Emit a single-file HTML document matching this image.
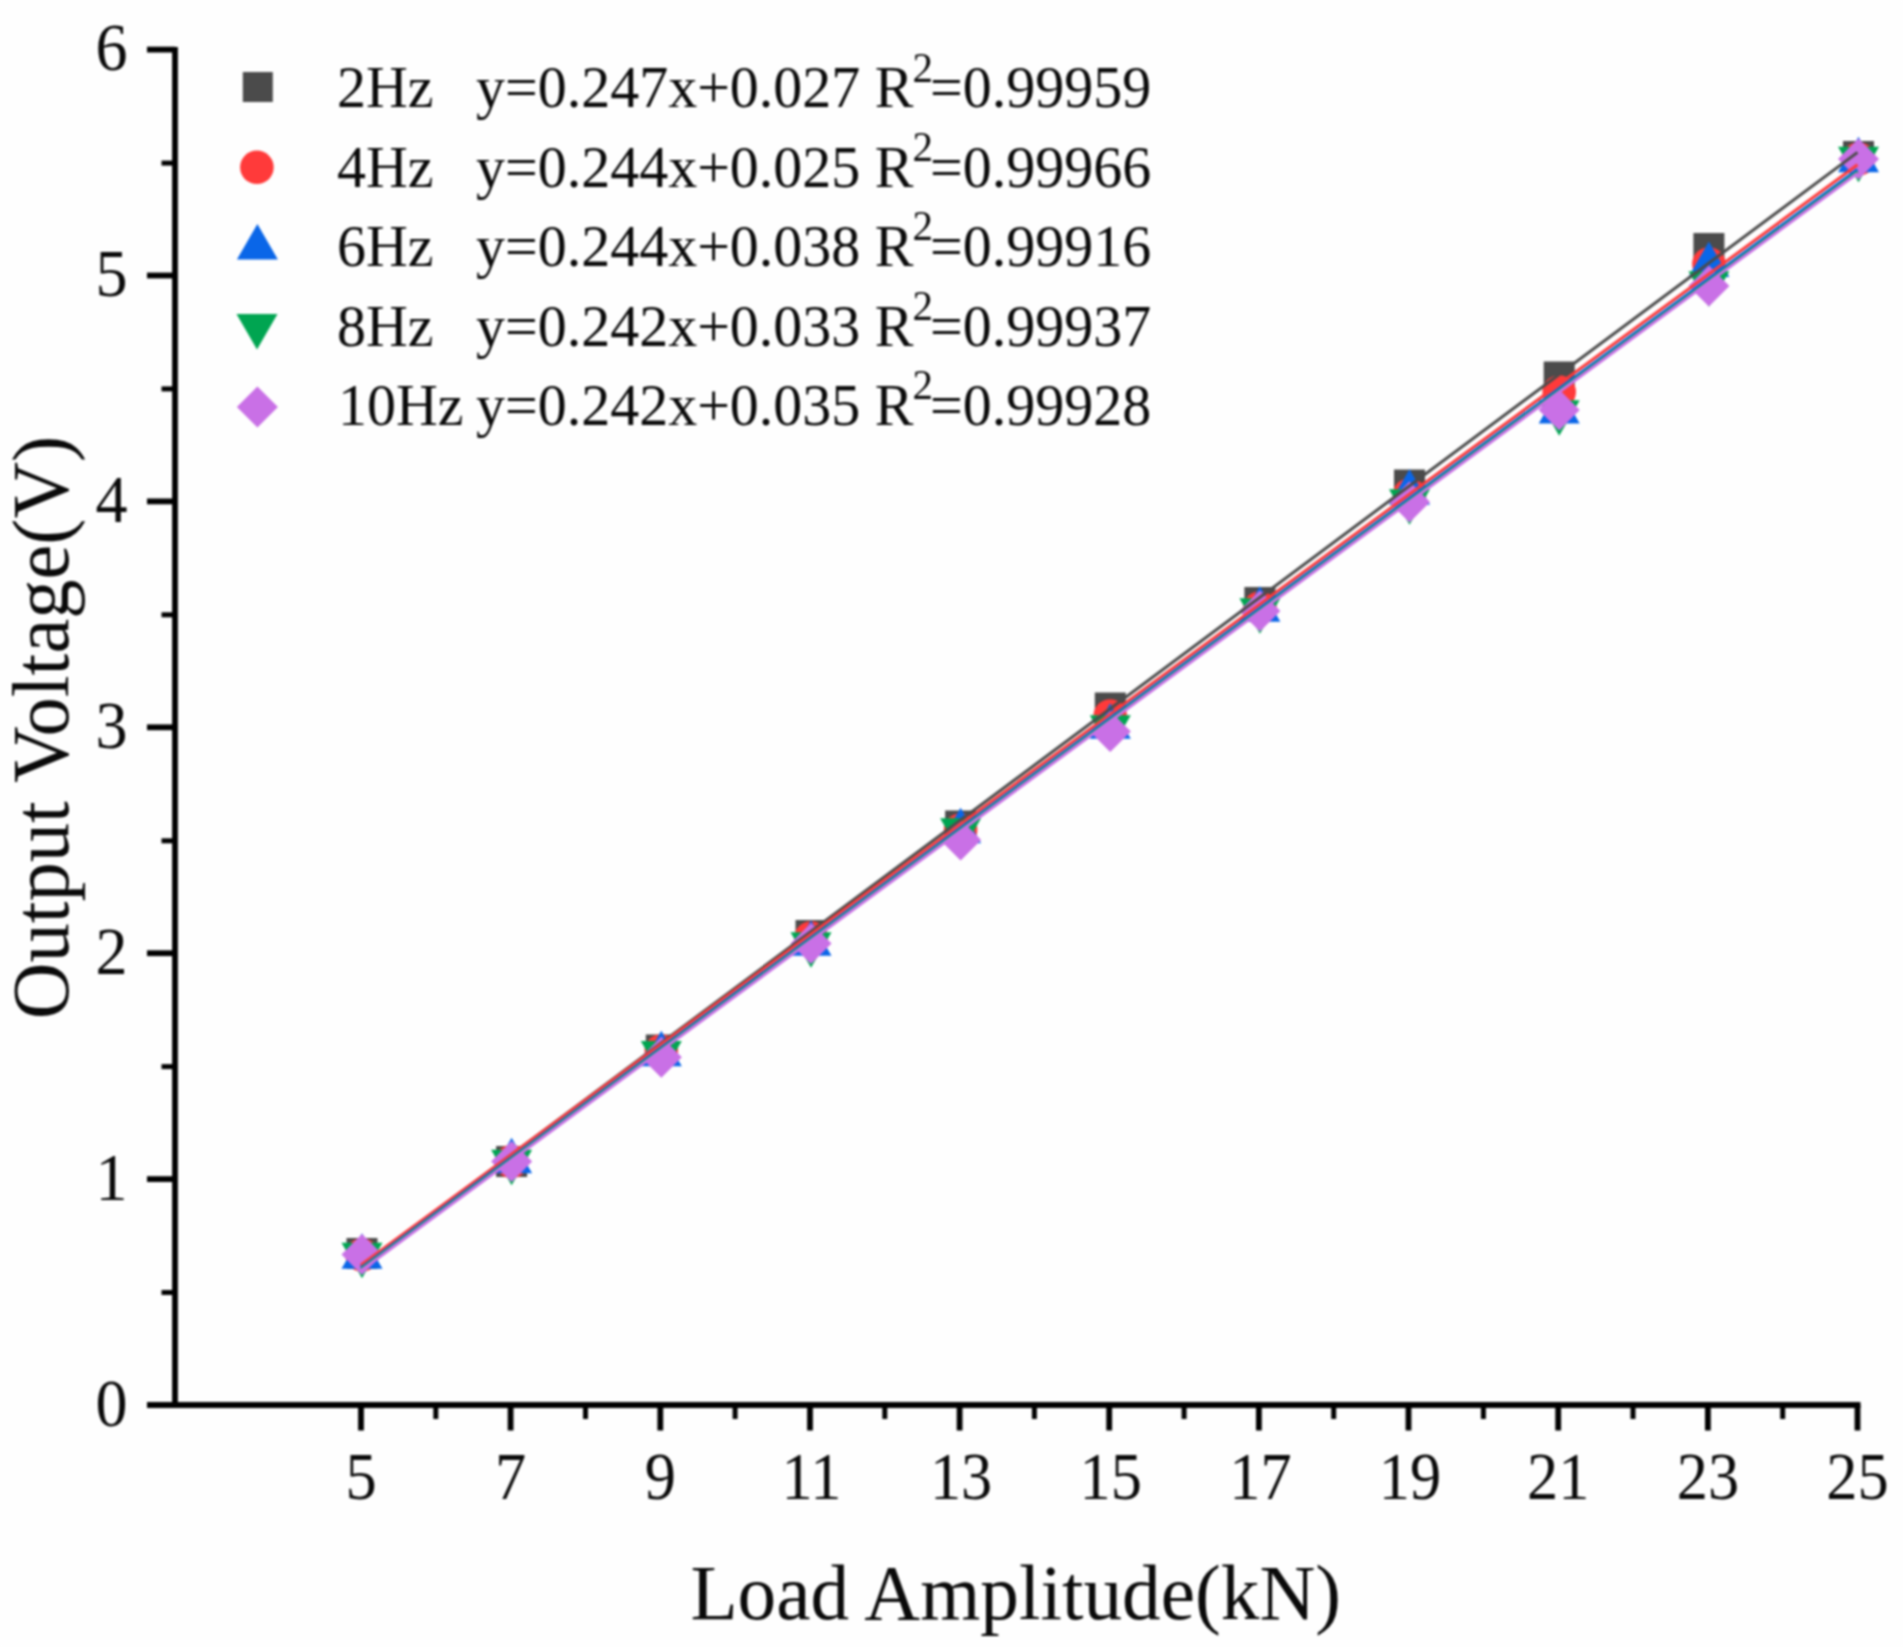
<!DOCTYPE html>
<html lang="en"><head><meta charset="utf-8"><title>Output Voltage vs Load Amplitude</title>
<style>html,body{margin:0;padding:0;background:#fefefe;}body{width:1903px;height:1647px;overflow:hidden;}svg{display:block;filter:blur(0.8px);}text{font-family:"Liberation Serif",serif;fill:#0a0a0a;}</style></head><body>
<svg width="1903" height="1647" viewBox="0 0 1903 1647">
<rect width="1903" height="1647" fill="#fefefe"/>
<g id="markers">
<rect x="346.5" y="1238.0" width="31" height="31" fill="#4b4b4b"/>
<rect x="496.1" y="1146.0" width="31" height="31" fill="#4b4b4b"/>
<rect x="645.8" y="1034.5" width="31" height="31" fill="#4b4b4b"/>
<rect x="795.5" y="920.0" width="31" height="31" fill="#4b4b4b"/>
<rect x="945.1" y="810.5" width="31" height="31" fill="#4b4b4b"/>
<rect x="1094.8" y="692.5" width="31" height="31" fill="#4b4b4b"/>
<rect x="1244.4" y="587.0" width="31" height="31" fill="#4b4b4b"/>
<rect x="1394.0" y="469.5" width="31" height="31" fill="#4b4b4b"/>
<rect x="1543.7" y="361.5" width="31" height="31" fill="#4b4b4b"/>
<rect x="1693.4" y="233.0" width="31" height="31" fill="#4b4b4b"/>
<rect x="1843.0" y="141.0" width="31" height="31" fill="#4b4b4b"/>
<circle cx="362.0" cy="1255.0" r="16.8" fill="#ff3a3a"/>
<circle cx="511.6" cy="1161.5" r="16.8" fill="#ff3a3a"/>
<circle cx="661.3" cy="1051.0" r="16.8" fill="#ff3a3a"/>
<circle cx="811.0" cy="938.0" r="16.8" fill="#ff3a3a"/>
<circle cx="960.6" cy="830.0" r="16.8" fill="#ff3a3a"/>
<circle cx="1110.2" cy="716.0" r="16.8" fill="#ff3a3a"/>
<circle cx="1259.9" cy="608.0" r="16.8" fill="#ff3a3a"/>
<circle cx="1409.5" cy="495.0" r="16.8" fill="#ff3a3a"/>
<circle cx="1559.2" cy="392.0" r="16.8" fill="#ff3a3a"/>
<circle cx="1708.9" cy="264.0" r="16.8" fill="#ff3a3a"/>
<circle cx="1858.5" cy="159.0" r="16.8" fill="#ff3a3a"/>
<polygon points="362.0,1233.3 341.5,1268.8 382.5,1268.8" fill="#0a66e8"/>
<polygon points="511.6,1137.8 491.1,1173.3 532.1,1173.3" fill="#0a66e8"/>
<polygon points="661.3,1030.8 640.8,1066.3 681.8,1066.3" fill="#0a66e8"/>
<polygon points="811.0,920.3 790.5,955.8 831.5,955.8" fill="#0a66e8"/>
<polygon points="960.6,807.8 940.1,843.3 981.1,843.3" fill="#0a66e8"/>
<polygon points="1110.2,703.3 1089.8,738.8 1130.8,738.8" fill="#0a66e8"/>
<polygon points="1259.9,586.3 1239.4,621.8 1280.4,621.8" fill="#0a66e8"/>
<polygon points="1409.5,469.3 1389.0,504.8 1430.0,504.8" fill="#0a66e8"/>
<polygon points="1559.2,388.1 1538.7,423.6 1579.7,423.6" fill="#0a66e8"/>
<polygon points="1708.9,241.6 1688.4,277.1 1729.4,277.1" fill="#0a66e8"/>
<polygon points="1858.5,136.8 1838.0,172.3 1879.0,172.3" fill="#0a66e8"/>
<polygon points="362.0,1278.2 341.5,1242.7 382.5,1242.7" fill="#00a551"/>
<polygon points="511.6,1185.2 491.1,1149.7 532.1,1149.7" fill="#00a551"/>
<polygon points="661.3,1076.4 640.8,1040.9 681.8,1040.9" fill="#00a551"/>
<polygon points="811.0,967.7 790.5,932.2 831.5,932.2" fill="#00a551"/>
<polygon points="960.6,853.7 940.1,818.2 981.1,818.2" fill="#00a551"/>
<polygon points="1110.2,750.7 1089.8,715.2 1130.8,715.2" fill="#00a551"/>
<polygon points="1259.9,633.7 1239.4,598.2 1280.4,598.2" fill="#00a551"/>
<polygon points="1409.5,524.7 1389.0,489.2 1430.0,489.2" fill="#00a551"/>
<polygon points="1559.2,435.7 1538.7,400.2 1579.7,400.2" fill="#00a551"/>
<polygon points="1708.9,306.7 1688.4,271.2 1729.4,271.2" fill="#00a551"/>
<polygon points="1858.5,182.2 1838.0,146.7 1879.0,146.7" fill="#00a551"/>
<polygon points="362.0,1234.0 382.5,1254.5 362.0,1275.0 341.5,1254.5" fill="#c970e6"/>
<polygon points="511.6,1141.0 532.1,1161.5 511.6,1182.0 491.1,1161.5" fill="#c970e6"/>
<polygon points="661.3,1036.8 681.8,1057.3 661.3,1077.8 640.8,1057.3" fill="#c970e6"/>
<polygon points="811.0,923.0 831.5,943.5 811.0,964.0 790.5,943.5" fill="#c970e6"/>
<polygon points="960.6,819.5 981.1,840.0 960.6,860.5 940.1,840.0" fill="#c970e6"/>
<polygon points="1110.2,710.9 1130.8,731.4 1110.2,751.9 1089.8,731.4" fill="#c970e6"/>
<polygon points="1259.9,590.5 1280.4,611.0 1259.9,631.5 1239.4,611.0" fill="#c970e6"/>
<polygon points="1409.5,481.5 1430.0,502.0 1409.5,522.5 1389.0,502.0" fill="#c970e6"/>
<polygon points="1559.2,389.5 1579.7,410.0 1559.2,430.5 1538.7,410.0" fill="#c970e6"/>
<polygon points="1708.9,265.5 1729.4,286.0 1708.9,306.5 1688.4,286.0" fill="#c970e6"/>
<polygon points="1858.5,138.5 1879.0,159.0 1858.5,179.5 1838.0,159.0" fill="#c970e6"/>
</g>
<g id="fits" stroke-width="3" stroke-linecap="butt">
<line x1="361.0" y1="1266.5" x2="1857.5" y2="152.4" stroke="#4b4b4b"/>
<line x1="361.0" y1="1265.0" x2="1857.5" y2="164.8" stroke="#ff3a3a"/>
<line x1="361.0" y1="1268.0" x2="1857.5" y2="169.5" stroke="#0a66e8"/>
<line x1="361.0" y1="1269.3" x2="1857.5" y2="171.8" stroke="#00a551"/>
<line x1="361.0" y1="1270.5" x2="1857.5" y2="173.2" stroke="#c970e6"/>
</g>
<g id="axes" stroke="#000" stroke-width="5.8" fill="none">
<line x1="175.0" y1="47" x2="175.0" y2="1408"/>
<line x1="147" y1="1405.0" x2="1860.5" y2="1405.0"/>
<line x1="161.5" y1="1292.5" x2="175.0" y2="1292.5" stroke-width="5"/>
<line x1="147" y1="1179.1" x2="175.0" y2="1179.1"/>
<line x1="161.5" y1="1066.6" x2="175.0" y2="1066.6" stroke-width="5"/>
<line x1="147" y1="953.2" x2="175.0" y2="953.2"/>
<line x1="161.5" y1="840.8" x2="175.0" y2="840.8" stroke-width="5"/>
<line x1="147" y1="727.3" x2="175.0" y2="727.3"/>
<line x1="161.5" y1="614.8" x2="175.0" y2="614.8" stroke-width="5"/>
<line x1="147" y1="501.4" x2="175.0" y2="501.4"/>
<line x1="161.5" y1="388.9" x2="175.0" y2="388.9" stroke-width="5"/>
<line x1="147" y1="275.5" x2="175.0" y2="275.5"/>
<line x1="161.5" y1="163.1" x2="175.0" y2="163.1" stroke-width="5"/>
<line x1="147" y1="49.6" x2="175.0" y2="49.6"/>
<line x1="361.0" y1="1405.0" x2="361.0" y2="1430.5"/>
<line x1="435.8" y1="1405.0" x2="435.8" y2="1419" stroke-width="5"/>
<line x1="510.6" y1="1405.0" x2="510.6" y2="1430.5"/>
<line x1="585.5" y1="1405.0" x2="585.5" y2="1419" stroke-width="5"/>
<line x1="660.3" y1="1405.0" x2="660.3" y2="1430.5"/>
<line x1="735.1" y1="1405.0" x2="735.1" y2="1419" stroke-width="5"/>
<line x1="810.0" y1="1405.0" x2="810.0" y2="1430.5"/>
<line x1="884.8" y1="1405.0" x2="884.8" y2="1419" stroke-width="5"/>
<line x1="959.6" y1="1405.0" x2="959.6" y2="1430.5"/>
<line x1="1034.4" y1="1405.0" x2="1034.4" y2="1419" stroke-width="5"/>
<line x1="1109.2" y1="1405.0" x2="1109.2" y2="1430.5"/>
<line x1="1184.1" y1="1405.0" x2="1184.1" y2="1419" stroke-width="5"/>
<line x1="1258.9" y1="1405.0" x2="1258.9" y2="1430.5"/>
<line x1="1333.7" y1="1405.0" x2="1333.7" y2="1419" stroke-width="5"/>
<line x1="1408.5" y1="1405.0" x2="1408.5" y2="1430.5"/>
<line x1="1483.4" y1="1405.0" x2="1483.4" y2="1419" stroke-width="5"/>
<line x1="1558.2" y1="1405.0" x2="1558.2" y2="1430.5"/>
<line x1="1633.0" y1="1405.0" x2="1633.0" y2="1419" stroke-width="5"/>
<line x1="1707.9" y1="1405.0" x2="1707.9" y2="1430.5"/>
<line x1="1782.7" y1="1405.0" x2="1782.7" y2="1419" stroke-width="5"/>
<line x1="1857.5" y1="1405.0" x2="1857.5" y2="1430.5"/>
</g>
<g id="ticklabels" font-size="67.5">
<text transform="translate(127.5,1425.5) scale(0.95,1)" text-anchor="end">0</text>
<text transform="translate(127.5,1199.6) scale(0.95,1)" text-anchor="end">1</text>
<text transform="translate(127.5,973.7) scale(0.95,1)" text-anchor="end">2</text>
<text transform="translate(127.5,747.8) scale(0.95,1)" text-anchor="end">3</text>
<text transform="translate(127.5,521.9) scale(0.95,1)" text-anchor="end">4</text>
<text transform="translate(127.5,296.0) scale(0.95,1)" text-anchor="end">5</text>
<text transform="translate(127.5,70.1) scale(0.95,1)" text-anchor="end">6</text>
<text transform="translate(361.0,1499) scale(0.925,1)" text-anchor="middle">5</text>
<text transform="translate(510.6,1499) scale(0.925,1)" text-anchor="middle">7</text>
<text transform="translate(660.3,1499) scale(0.925,1)" text-anchor="middle">9</text>
<text transform="translate(811.5,1499) scale(0.925,1)" text-anchor="middle">11</text>
<text transform="translate(961.1,1499) scale(0.925,1)" text-anchor="middle">13</text>
<text transform="translate(1110.8,1499) scale(0.925,1)" text-anchor="middle">15</text>
<text transform="translate(1260.4,1499) scale(0.925,1)" text-anchor="middle">17</text>
<text transform="translate(1410.0,1499) scale(0.925,1)" text-anchor="middle">19</text>
<text transform="translate(1558.2,1499) scale(0.925,1)" text-anchor="middle">21</text>
<text transform="translate(1707.9,1499) scale(0.925,1)" text-anchor="middle">23</text>
<text transform="translate(1857.5,1499) scale(0.925,1)" text-anchor="middle">25</text>
</g>
<text transform="translate(1015.7,1618.5) scale(0.985,1)" font-size="78.5" text-anchor="middle">Load Amplitude(kN)</text>
<text transform="translate(68,727.5) rotate(-90) scale(1,1.03)" font-size="78.5" text-anchor="middle">Output Voltage(V)</text>
<g id="legend" font-size="58">
<rect x="242.8" y="72.0" width="30" height="30" fill="#4b4b4b"/>
<text transform="translate(337,107.3) scale(1,1.03)">2Hz</text>
<text transform="translate(476,107.3) scale(1,1.03)">y=0.247x+0.027 R<tspan font-size="41" dy="-25" dx="-1">2</tspan><tspan dy="25" dx="-3">=0.99959</tspan></text>
<circle cx="256.9" cy="167.3" r="16.8" fill="#ff3a3a"/>
<text transform="translate(337,186.7) scale(1,1.03)">4Hz</text>
<text transform="translate(476,186.7) scale(1,1.03)">y=0.244x+0.025 R<tspan font-size="41" dy="-25" dx="-1">2</tspan><tspan dy="25" dx="-3">=0.99966</tspan></text>
<polygon points="257.4,224.0 236.9,259.5 277.9,259.5" fill="#0a66e8"/>
<text transform="translate(337,266.1) scale(1,1.03)">6Hz</text>
<text transform="translate(476,266.1) scale(1,1.03)">y=0.244x+0.038 R<tspan font-size="41" dy="-25" dx="-1">2</tspan><tspan dy="25" dx="-3">=0.99916</tspan></text>
<polygon points="257.0,349.4 236.5,313.9 277.5,313.9" fill="#00a551"/>
<text transform="translate(337,345.5) scale(1,1.03)">8Hz</text>
<text transform="translate(476,345.5) scale(1,1.03)">y=0.242x+0.033 R<tspan font-size="41" dy="-25" dx="-1">2</tspan><tspan dy="25" dx="-3">=0.99937</tspan></text>
<polygon points="257.4,386.4 277.9,406.9 257.4,427.4 236.9,406.9" fill="#c970e6"/>
<text transform="translate(338,424.9) scale(1,1.03)">10Hz</text>
<text transform="translate(476,424.9) scale(1,1.03)">y=0.242x+0.035 R<tspan font-size="41" dy="-25" dx="-1">2</tspan><tspan dy="25" dx="-3">=0.99928</tspan></text>
</g>
</svg></body></html>
